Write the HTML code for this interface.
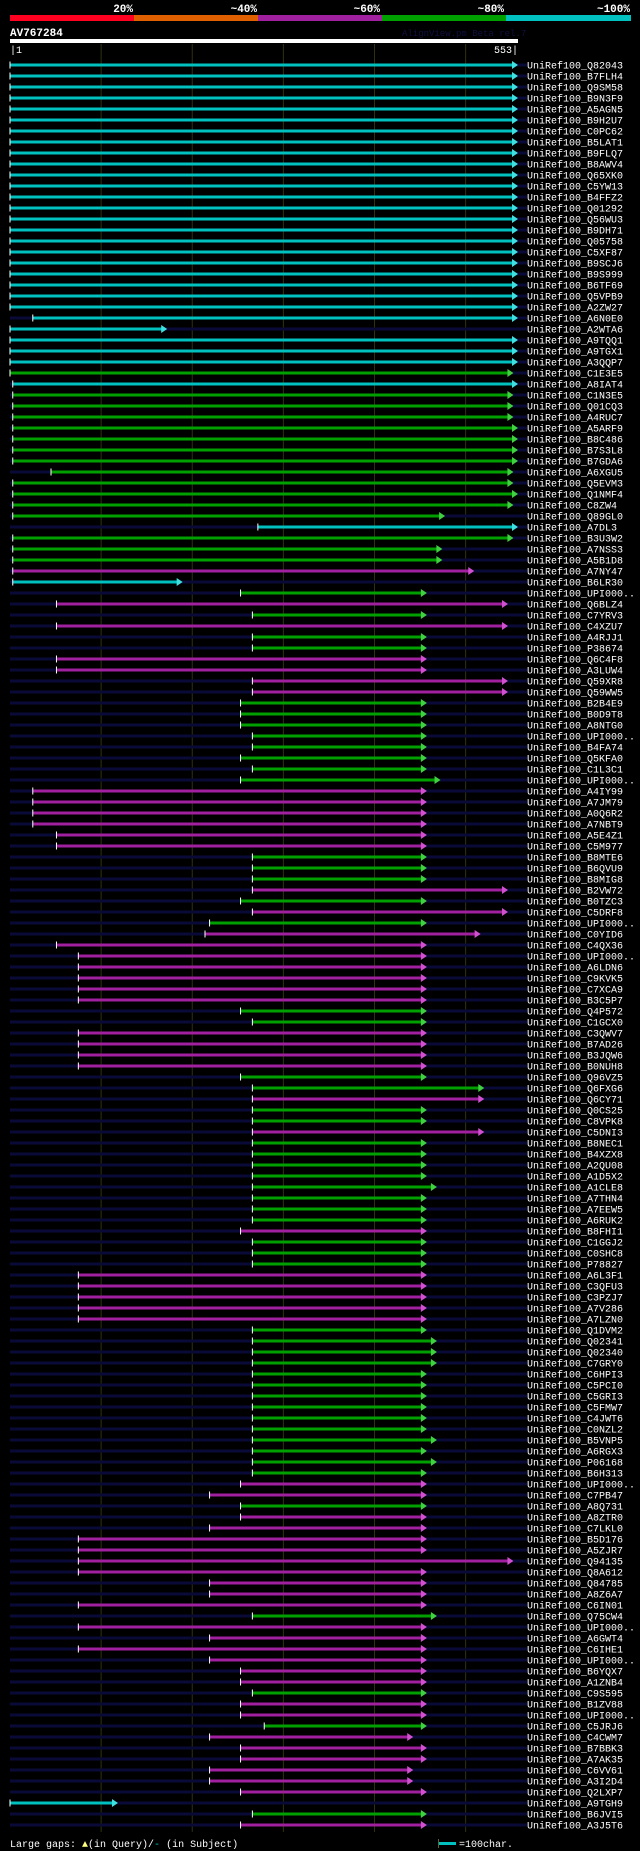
<!DOCTYPE html>
<html><head><meta charset="utf-8"><style>
html,body{margin:0;padding:0;background:#000;}
body{width:640px;height:1851px;overflow:hidden;}
svg{display:block;font-family:"Liberation Mono","DejaVu Sans Mono",monospace;}
</style></head><body>
<svg id="chart" width="640" height="1851" viewBox="0 0 640 1851">
<g>
<rect x="10" y="15" width="124" height="6" fill="#ff0020"/>
<rect x="134" y="15" width="124" height="6" fill="#e06000"/>
<rect x="258" y="15" width="124" height="6" fill="#a020a0"/>
<rect x="382" y="15" width="124" height="6" fill="#00a000"/>
<rect x="506" y="15" width="125" height="6" fill="#00c0c0"/>
<g fill="#fff" font-size="11" font-weight="bold" text-anchor="end">
<text x="133" y="12">20%</text>
<text x="257" y="12">~40%</text>
<text x="380" y="12">~60%</text>
<text x="504" y="12">~80%</text>
<text x="630" y="12">~100%</text>
</g></g>
<text x="10" y="36" fill="#fff" font-size="11" font-weight="bold">AV767284</text>
<text x="402" y="36" fill="#101040" font-size="9">AlignView.pm Beta rel.7</text>
<rect x="10" y="39" width="508" height="4" fill="#fff"/>
<text x="10" y="53" fill="#fff" font-size="10">|1</text>
<text x="518" y="53" fill="#fff" font-size="10" text-anchor="end">553|</text>
<g id="grid"></g>
<g id="rows"></g>
<g>
<text x="10" y="1847" fill="#fff" font-size="10">Large gaps: <tspan fill="#ffff80">▲</tspan>(in Query)/<tspan fill="#00c0c0">-</tspan> (in Subject)</text>
<rect x="439" y="1842" width="17" height="3" fill="#00c0c0"/>
<rect x="438" y="1839" width="1" height="9" fill="#606030"/>
<text x="459" y="1847" fill="#fff" font-size="10">=100char.</text>
</g>
</svg>
<script>
const labels=["Q82043","B7FLH4","Q9SM58","B9N3F9","A5AGN5","B9H2U7","C0PC62","B5LAT1","B9FLQ7","B8AWV4","Q65XK0","C5YW13","B4FFZ2","Q01292","Q56WU3","B9DH71","Q05758","C5XF87","B9SCJ6","B9S999","B6TF69","Q5VPB9","A2ZW27","A6N0E0","A2WTA6","A9TQQ1","A9TGX1","A3QQP7","C1E3E5","A8IAT4","C1N3E5","Q01CQ3","A4RUC7","A5ARF9","B8C486","B7S3L8","B7GDA6","A6XGU5","Q5EVM3","Q1NMF4","C8ZW4","Q89GL0","A7DL3","B3U3W2","A7NSS3","A5B1D8","A7NY47","B6LR30","UPI000..","Q6BLZ4","C7YRV3","C4XZU7","A4RJJ1","P38674","Q6C4F8","A3LUW4","Q59XR8","Q59WW5","B2B4E9","B0D9T8","A8NTG0","UPI000..","B4FA74","Q5KFA0","C1L3C1","UPI000..","A4IY99","A7JM79","A0Q6R2","A7NBT9","A5E4Z1","C5M977","B8MTE6","B6QVU9","B8MIG8","B2VW72","B0TZC3","C5DRF8","UPI000..","C0YID6","C4QX36","UPI000..","A6LDN6","C9KVK5","C7XCA9","B3C5P7","Q4P572","C1GCX0","C3QWV7","B7AD26","B3JQW6","B0NUH8","Q96VZ5","Q6FXG6","Q6CY71","Q0CS25","C8VPK8","C5DNI3","B8NEC1","B4XZX8","A2QU08","A1D5X2","A1CLE8","A7THN4","A7EEW5","A6RUK2","B8FHI1","C1GGJ2","C0SHC8","P78827","A6L3F1","C3QFU3","C3PZJ7","A7V286","A7LZN0","Q1DVM2","Q02341","Q02340","C7GRY0","C6HPI3","C5PCI0","C5GRI3","C5FMW7","C4JWT6","C0NZL2","B5VNP5","A6RGX3","P06168","B6H313","UPI000..","C7PB47","A8Q731","A8ZTR0","C7LKL0","B5D176","A5ZJR7","Q94135","Q8A612","Q84785","A8Z6A7","C6IN01","Q75CW4","UPI000..","A6GWT4","C6IHE1","UPI000..","B6YQX7","A1ZNB4","C9S595","B1ZV88","UPI000..","C5JRJ6","C4CWM7","B7BBK3","A7AK35","C6VV61","A3I2D4","Q2LXP7","A9TGH9","B6JVI5","A3J5T6"];
const colors=("cccccccccccccccccccccccccccc"+"gc"+"gggggggggggg"+"c"+"ggg"+"mcgmgm"+"gg"+"mmmm"+"gggggggg"+"mmmmmm"+"ggg"+"mgmgm"+"mmmmmm"+"gg"+"mmmm"+"ggmggm"+"gggggggg"+"mggg"+"mmmmm"+"gggggggggggggg"+"mmgmm"+"mmmmmmm"+"g"+"mmmmmm"+"gmmg"+"mmmmmm"+"cgm").split("");
const starts=[1,1,1,1,1,1,1,1,1,1,
1,1,1,1,1,1,1,1,1,1,
1,1,1,26,1,1,1,1,1,4,
4,4,4,4,4,4,4,46,4,4,
4,4,273,4,4,4,4,4,254,52,
267,52,267,267,52,52,267,267,254,254,
254,267,267,254,267,254,26,26,26,26,
52,52,267,267,267,267,254,267,220,215,
52,76,76,76,76,76,254,267,76,76,
76,76,254,267,267,267,267,267,267,267,
267,267,267,267,267,267,254,267,267,267,
76,76,76,76,76,267,267,267,267,267,
267,267,267,267,267,267,267,267,267,254,
220,254,254,220,76,76,76,76,220,220,
76,267,76,220,76,220,254,254,267,254,
254,280,220,254,254,220,220,254,1,267,
254];
const ends=[553,553,553,553,553,553,553,553,553,553,
553,553,553,553,553,553,553,553,553,553,
553,553,553,553,168,553,553,553,548,553,
548,548,548,553,553,553,553,548,548,553,
548,473,553,548,470,470,505,185,453,542,
453,542,453,453,453,453,542,542,453,453,
453,453,453,453,453,468,453,453,453,453,
453,453,453,453,453,542,453,542,453,512,
453,453,453,453,453,453,453,453,453,453,
453,453,453,516,516,453,453,516,453,453,
453,453,464,453,453,453,453,453,453,453,
453,453,453,453,453,453,464,464,464,453,
453,453,453,453,453,464,453,464,453,453,
453,453,453,453,453,453,548,453,453,453,
453,464,453,453,453,453,453,453,453,453,
453,453,438,453,453,438,438,453,114,453,
453];
const NS="http://www.w3.org/2000/svg";
const X0=10,X1=513,NRES=553,ROW0=65,ROWH=11;
function xs(r){return X0+(r-1)/(NRES-1)*(X1-X0);}
function ys(i){return ROW0+i*ROWH;}
const pal={c:["#00c0c0","#40e0e0"],g:["#00a000","#40d040"],m:["#a020a0","#d050d0"]};
const grid=document.getElementById('grid');
[101,201,301,401,501].forEach(function(r){
 const l=document.createElementNS(NS,'line');
 
 
 const x=xs(r);
 l.setAttribute('x1',x);l.setAttribute('x2',x);l.setAttribute('y1',44);l.setAttribute('y2',1832);
 l.setAttribute('stroke','#303010');l.setAttribute('stroke-width','1');
 grid.appendChild(l);
});
const rows=document.getElementById('rows');
labels.forEach(function(lab,i){
 const g=document.createElementNS(NS,'g');
 
 
 const y=ys(i);
 const bg=document.createElementNS(NS,'rect');
 
 
 bg.setAttribute('x',10);bg.setAttribute('y',y-1.5);bg.setAttribute('width',517);bg.setAttribute('height',3);
 bg.setAttribute('fill','#0a0a38');
 g.appendChild(bg);
 const p=pal[colors[i]]||pal.m;
 const x1=xs(starts[i]),x2=xs(ends[i]);
 const bar=document.createElementNS(NS,'rect');
 
 
 bar.setAttribute('x',x1);bar.setAttribute('y',y-1.5);bar.setAttribute('width',Math.max(0,x2-x1));bar.setAttribute('height',3);
 bar.setAttribute('fill',p[0]);
 g.appendChild(bar);
 const tick=document.createElementNS(NS,'rect');
 
 
 tick.setAttribute('x',x1-0.5);tick.setAttribute('y',y-3.5);tick.setAttribute('width',1);tick.setAttribute('height',7);
 tick.setAttribute('fill','#fff');
 g.appendChild(tick);
 const ar=document.createElementNS(NS,'polygon');
 
 
 ar.setAttribute('points',(x2-1)+','+(y-4)+' '+(x2+5)+','+y+' '+(x2-1)+','+(y+4));
 ar.setAttribute('fill',p[1]);
 g.appendChild(ar);
 const t=document.createElementNS(NS,'text');
 
 
 t.setAttribute('x',527);t.setAttribute('y',y+3.5);
 t.setAttribute('fill','#fff');t.setAttribute('font-size','10');
 t.textContent='UniRef100_'+lab;
 g.appendChild(t);
 rows.appendChild(g);
});
</script>
</body></html>
